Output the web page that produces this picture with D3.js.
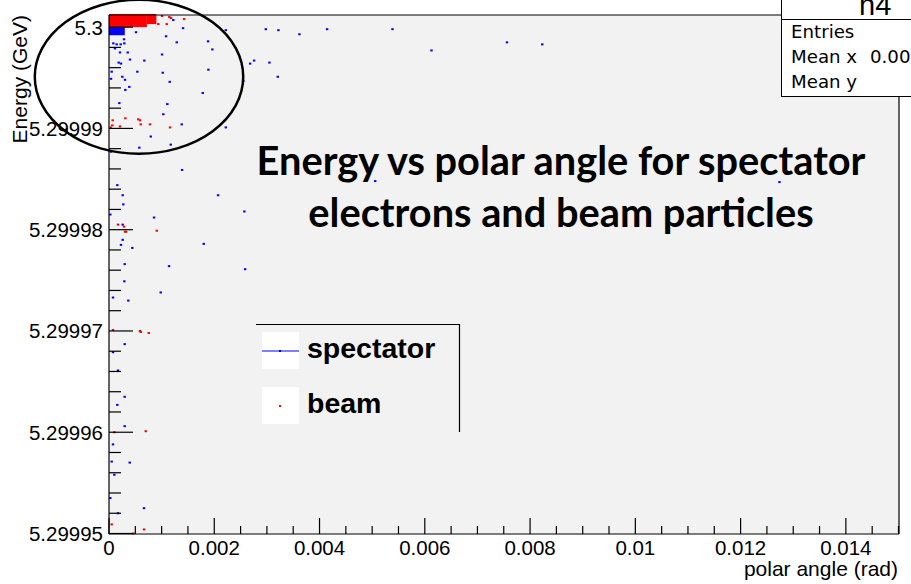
<!DOCTYPE html>
<html>
<head>
<meta charset="utf-8">
<script src="https://cdn.jsdelivr.net/npm/d3@7/dist/d3.min.js"></script>
<style>
  body { margin: 0; background: #fff; }
</style>
</head>
<body>
<svg id="chart" width="911" height="584" font-family="'Liberation Sans', Arial, Helvetica, sans-serif"></svg>
<script>
// axis ticks
const xTickValues = [0, 0.002, 0.004, 0.006, 0.008, 0.01, 0.012, 0.014];
const xTickLabels = ['0', '0.002', '0.004', '0.006', '0.008', '0.01', '0.012', '0.014'];
const yTickValues = [5.29995, 5.29996, 5.29997, 5.29998, 5.29999, 5.3];
const yTickLabels = ['5.29995', '5.29996', '5.29997', '5.29998', '5.29999', '5.3'];

// spectator electrons: polar angle (rad) / energy (GeV)
const spectatorAngle = [
  0.000513, 0.001084, 0.001222, 0.001407, 0.002219, 0.001287, 0.001882, 0.001964, 0.001008, 0.000671,
  0.000399, 0.000356, 0.000209, 0.000114, 0.000146, 0.000222, 0.000291, 0.000082, 0.000285, 0.000184,
  0.000228, 0.000051, 0.000538, 0.001021, 0.001888, 0.002681, 0.002757, 0.000253, 0.000304, 0.000038,
  0.001154, 0.000386, 0.000310, 0.001781, 0.002553, 0.000196, 0.001108, 0.001032, 0.001382, 0.002219,
  0.000793, 0.001173, 0.000576, 0.000038, 0.001388, 0.000158, 0.000260, 0.002072, 0.000272, 0.002572,
  0.000025, 0.000856, 0.000260, 0.000260, 0.000228, 0.000443, 0.001800, 0.000298, 0.001141, 0.002586,
  0.000291, 0.000983, 0.000076, 0.000367, 0.000298, 0.000076, 0.000171, 0.000298, 0.000158, 0.000298,
  0.000076, 0.000051, 0.000394, 0.000101, 0.000025, 0.000665, 0.000171, 0.002979, 0.003219, 0.003618,
  0.004144, 0.005386, 0.006127, 0.003048, 0.003207, 0.005057, 0.007561, 0.008232, 0.012738
];
const spectatorEnergy = [
  5.2999995, 5.2999991, 5.3000007, 5.2999999, 5.2999997, 5.2999985, 5.2999986, 5.2999978, 5.2999973, 5.2999967,
  5.2999968, 5.2999975, 5.2999975, 5.2999979, 5.2999983, 5.2999983, 5.2999984, 5.2999984, 5.2999988, 5.2999965,
  5.2999964, 5.2999956, 5.2999956, 5.2999955, 5.2999958, 5.2999964, 5.2999967, 5.2999951, 5.2999948, 5.2999949,
  5.2999946, 5.2999941, 5.2999938, 5.2999935, 5.2999947, 5.2999925, 5.2999924, 5.2999914, 5.2999904, 5.2999901,
  5.2999892, 5.2999884, 5.2999881, 5.2999877, 5.2999859, 5.2999844, 5.2999834, 5.2999834, 5.2999825, 5.2999818,
  5.2999815, 5.2999812, 5.2999805, 5.2999790, 5.2999785, 5.2999782, 5.2999786, 5.2999766, 5.2999764, 5.2999761,
  5.2999749, 5.2999738, 5.2999733, 5.2999730, 5.2999687, 5.2999679, 5.2999661, 5.2999635, 5.2999627, 5.2999606,
  5.2999588, 5.2999571, 5.2999570, 5.2999558, 5.2999535, 5.2999525, 5.2999520, 5.2999998, 5.2999997, 5.2999993,
  5.2999998, 5.2999998, 5.2999977, 5.2999965, 5.2999951, 5.2999848, 5.2999985, 5.2999983, 5.2999847
];

// beam particles
const beamAngle = [
  0.000310, 0.000070, 0.000557, 0.000589, 0.000603, 0.000779, 0.000209, 0.000032, 0.000063, 0.001160,
  0.001008, 0.001146, 0.001179, 0.001426, 0.000937, 0.001097, 0.000171, 0.000285, 0.000304, 0.000323,
  0.000907, 0.000076, 0.000589, 0.000603, 0.000755, 0.000101, 0.000698, 0.000051, 0.000462, 0.000665
];
const beamEnergy = [
  5.2999910, 5.2999908, 5.2999909, 5.2999908, 5.2999904, 5.2999904, 5.2999902, 5.2999901, 5.2999903, 5.2999901,
  5.3000011, 5.3000010, 5.3000009, 5.3000008, 5.3000003, 5.3000003, 5.2999805, 5.2999803, 5.2999798, 5.2999798,
  5.2999799, 5.2999701, 5.2999700, 5.2999699, 5.2999698, 5.2999600, 5.2999601, 5.2999509, 5.2999500, 5.2999504
];

// saturated cores near the nominal energy: [angle0, angle1, energy0, energy1]
const spectatorCore = [[0, 0.0003, 5.2999992, 5.3000001]];
const beamCore = [[0, 0.00072, 5.3000000, 5.3000013], [0.00072, 0.00090, 5.3000003, 5.3000013]];

// hand-drawn ring on the slide: centre angle, centre energy, half-width (rad), half-height (GeV)
const ring = [0.00057, 5.2999951, 0.00198, 0.0000076];

const svg = d3.select('#chart');
const W = 911, H = 584;
const frame = {left: 109, right: 899, top: 15, bottom: 534};

const x = d3.scaleLinear().domain([0, 0.015]).range([frame.left, 898.5]);
const y = d3.scaleLinear().domain([5.29995, 5.3000012]).range([533.5, frame.top]);

svg.append('rect').attr('width', W).attr('height', H).attr('fill', '#fff');

// frame
svg.append('rect')
  .attr('x', frame.left).attr('y', frame.top)
  .attr('width', frame.right - frame.left).attr('height', frame.bottom - frame.top)
  .attr('fill', '#f2f2f2');

const plot = svg.append('g');

// dense cores
plot.selectAll('.score').data(spectatorCore).enter().append('rect')
  .attr('x', d => x(d[0])).attr('width', d => x(d[1]) - x(d[0]))
  .attr('y', d => y(d[3])).attr('height', d => y(d[2]) - y(d[3]))
  .attr('fill', '#0000ff');
plot.selectAll('.bcore').data(beamCore).enter().append('rect')
  .attr('x', d => x(d[0])).attr('width', d => x(d[1]) - x(d[0]))
  .attr('y', d => y(d[3])).attr('height', d => y(d[2]) - y(d[3]))
  .attr('fill', '#ff0000');

const spectator = spectatorAngle.map((a, i) => [a, spectatorEnergy[i]]);
const beam = beamAngle.map((a, i) => [a, beamEnergy[i]]);

plot.selectAll('.sp').data(spectator).enter().append('rect')
  .attr('x', d => x(d[0]) - 1.2).attr('y', d => y(d[1]) - 1)
  .attr('width', 2.4).attr('height', 2)
  .attr('fill', '#0000ff');
plot.selectAll('.bm').data(beam).enter().append('rect')
  .attr('x', d => x(d[0]) - 1.2).attr('y', d => y(d[1]) - 1)
  .attr('width', 2.4).attr('height', 2)
  .attr('fill', '#ff0000');

// frame border
const axisG = svg.append('g').attr('stroke', '#000').attr('stroke-width', 1.2);
axisG.append('line').attr('x1', frame.left).attr('x2', frame.right).attr('y1', frame.top).attr('y2', frame.top);
axisG.append('line').attr('x1', frame.right).attr('x2', frame.right).attr('y1', frame.top).attr('y2', frame.bottom);
axisG.append('line').attr('x1', frame.left).attr('x2', frame.right).attr('y1', frame.bottom).attr('y2', frame.bottom);
axisG.append('line').attr('x1', frame.left).attr('x2', frame.left).attr('y1', frame.top).attr('y2', frame.bottom);

// x ticks
const xMinor = d3.range(0, 31).map(i => i * 0.0005).filter(v => !xTickValues.some(t => Math.abs(t - v) < 1e-9));
axisG.selectAll('.xmin').data(xMinor).enter().append('line')
  .attr('x1', d => x(d)).attr('x2', d => x(d))
  .attr('y1', frame.bottom).attr('y2', frame.bottom - 8);
axisG.selectAll('.xmaj').data(xTickValues).enter().append('line')
  .attr('x1', d => x(d)).attr('x2', d => x(d))
  .attr('y1', frame.bottom).attr('y2', frame.bottom - 16);

// y ticks
const yMinor = d3.range(0, 26).map(i => 5.29995 + i * 2e-6)
  .filter(v => v < y.domain()[1] && !yTickValues.some(t => Math.abs(t - v) < 1e-9));
axisG.selectAll('.ymin').data(yMinor).enter().append('line')
  .attr('x1', frame.left).attr('x2', frame.left + 12)
  .attr('y1', d => y(d)).attr('y2', d => y(d));
axisG.selectAll('.ymaj').data(yTickValues).enter().append('line')
  .attr('x1', frame.left).attr('x2', frame.left + 24)
  .attr('y1', d => y(d)).attr('y2', d => y(d));

// tick labels
svg.selectAll('.xl').data(xTickValues).enter().append('text')
  .attr('x', d => x(d)).attr('y', 555)
  .attr('text-anchor', 'middle').attr('font-size', 20.5)
  .text((d, i) => xTickLabels[i]);
svg.selectAll('.yl').data(yTickValues).enter().append('text')
  .attr('x', 103).attr('y', d => y(d) + 7.5)
  .attr('text-anchor', 'end').attr('font-size', 20.5)
  .text((d, i) => yTickLabels[i]);

// axis titles
svg.append('text')
  .attr('x', 898).attr('y', 576)
  .attr('text-anchor', 'end').attr('font-size', 21)
  .text('polar angle (rad)');
svg.append('text')
  .attr('transform', 'translate(27,15) rotate(-90)')
  .attr('text-anchor', 'end').attr('font-size', 21)
  .text('Energy (GeV)');

// stats box (its title is cut by the slide edge, as in the original)
const stats = svg.append('g');
stats.append('rect').attr('x', 781.5).attr('y', -2).attr('width', 140).attr('height', 21.5)
  .attr('fill', '#fff').attr('stroke', '#000');
stats.append('rect').attr('x', 781.5).attr('y', 19.5).attr('width', 140).attr('height', 77)
  .attr('fill', '#fff').attr('stroke', '#000');
stats.append('text').attr('x', 859).attr('y', 15).attr('font-size', 29).text('h4');
const statRows = [['Entries', 38], ['Mean x', 63], ['Mean y', 88]];
stats.selectAll('.st').data(statRows).enter().append('text')
  .attr('x', 791).attr('y', d => d[1])
  .attr('font-family', '"DejaVu Sans", sans-serif').attr('font-size', 18.2)
  .text(d => d[0]);
stats.append('text').attr('x', 870).attr('y', 63)
  .attr('font-family', '"DejaVu Sans", sans-serif').attr('font-size', 18.2)
  .text('0.00');

// legend
const leg = svg.append('g');
leg.append('polyline')
  .attr('points', '256,324.5 459.5,324.5 459.5,432')
  .attr('fill', 'none').attr('stroke', '#000').attr('stroke-width', 1.2);
leg.append('rect').attr('x', 262).attr('y', 332).attr('width', 37).attr('height', 37).attr('fill', '#fff');
leg.append('rect').attr('x', 262).attr('y', 387).attr('width', 37).attr('height', 37).attr('fill', '#fff');
leg.append('line').attr('x1', 262).attr('x2', 299).attr('y1', 351).attr('y2', 351)
  .attr('stroke', '#0000ff').attr('stroke-width', 1.2);
leg.append('rect').attr('x', 279).attr('y', 350).attr('width', 2).attr('height', 2).attr('fill', '#0000ff');
leg.append('rect').attr('x', 279).attr('y', 405).attr('width', 2).attr('height', 2).attr('fill', '#ff0000');
leg.append('text').attr('x', 307).attr('y', 358).attr('font-size', 28.5).attr('font-weight', 'bold').text('spectator');
leg.append('text').attr('x', 307).attr('y', 413).attr('font-size', 28.5).attr('font-weight', 'bold').text('beam');

// slide annotation
svg.append('ellipse')
  .attr('cx', x(ring[0])).attr('cy', y(ring[1]))
  .attr('rx', x(ring[2]) - x(0)).attr('ry', y(5.3 - ring[3]) - y(5.3))
  .attr('fill', 'none').attr('stroke', '#000').attr('stroke-width', 2.5);

const titleLines = ['Energy vs polar angle for spectator', 'electrons and beam particles'];
const title = svg.selectAll('.title').data(titleLines).enter().append('text')
  .attr('x', 561).attr('y', (d, i) => 175 + i * 51.5)
  .attr('text-anchor', 'middle')
  .attr('font-family', 'Lato, "Open Sans", sans-serif')
  .attr('font-weight', 'bold').attr('font-size', 32)
  .text(d => d);
const w0 = title.node().getComputedTextLength();
title.attr('font-size', 32 * 609 / w0);
</script>
</body>
</html>
